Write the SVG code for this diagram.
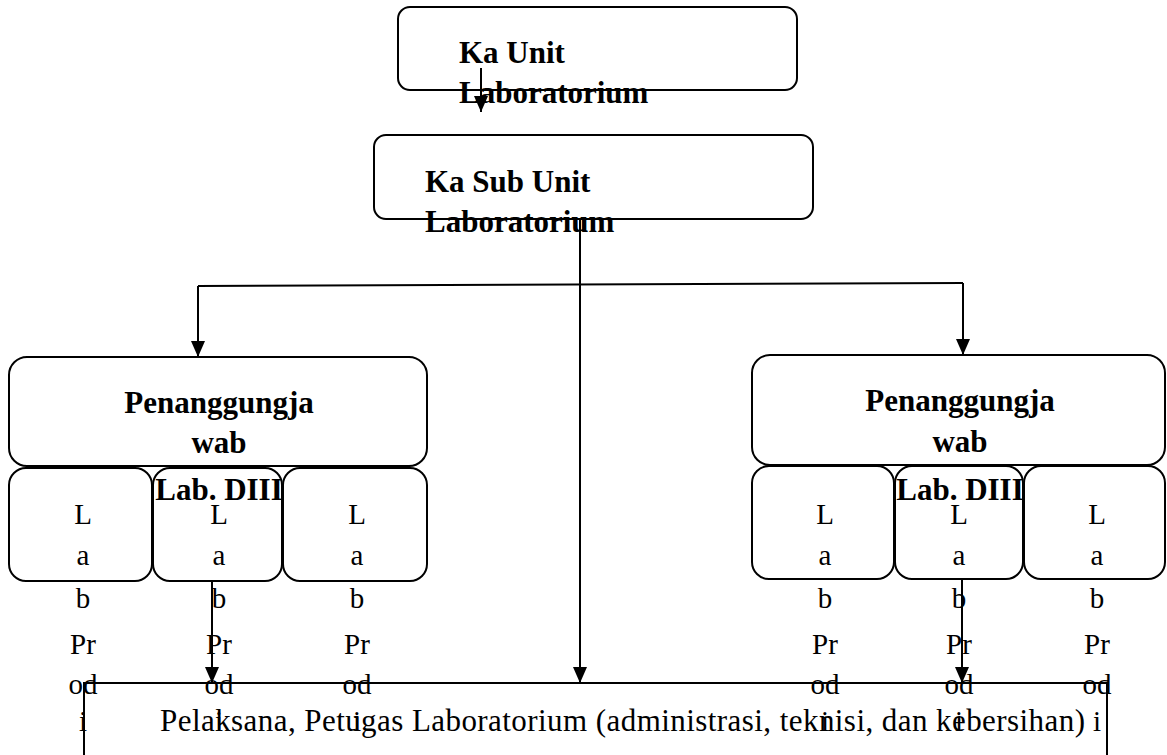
<svg xmlns="http://www.w3.org/2000/svg" width="1167" height="755" viewBox="0 0 1167 755">
<style>
.box{fill:#fff;stroke:#000;stroke-width:2}
.ln{fill:none;stroke:#000;stroke-width:2}
.b{font-family:"Liberation Serif","Times New Roman",serif;font-weight:bold;font-size:31px;fill:#000}
.r{font-family:"Liberation Serif","Times New Roman",serif;font-size:29px;fill:#000;text-anchor:middle}
.c{text-anchor:middle}
</style>
<defs>
<marker id="ah" viewBox="0 0 16 14" refX="16" refY="7" markerWidth="16" markerHeight="14" markerUnits="userSpaceOnUse" orient="auto">
<path d="M0,0 L16,7 L0,14 Z" fill="#000"/>
</marker>
</defs>
<rect x="0" y="0" width="1167" height="755" fill="#fff"/>
<g id="ka-unit">
<rect class="box" x="398" y="7" width="399" height="83" rx="12"/>
<text class="b" x="459" y="63">Ka Unit</text>
<text class="b" x="459" y="103">Laboratorium</text>
</g>
<g id="ka-sub-unit">
<rect class="box" x="374" y="135" width="439" height="84" rx="12"/>
<text class="b" x="425" y="192">Ka Sub Unit</text>
<text class="b" x="425" y="232">Laboratorium</text>
</g>
<g id="pj-kiri">
<rect class="box" x="9" y="357" width="418" height="109" rx="18"/>
<rect class="box" x="9" y="468" width="143" height="113" rx="17"/>
<rect class="box" x="153" y="468" width="129" height="113" rx="17"/>
<rect class="box" x="283" y="468" width="144" height="113" rx="17"/>
<text class="b c" x="219" y="413">Penanggungja</text>
<text class="b c" x="219" y="453">wab</text>
<text class="b c" x="219" y="500">Lab. DIII</text>
</g>
<g id="lab-kiri">
<text class="r" x="83" y="524">L</text><text class="r" x="83" y="565">a</text><text class="r" x="83" y="608">b</text><text class="r" x="83" y="654">Pr</text><text class="r" x="83" y="694">od</text><text class="r" x="83" y="731">i</text>
<text class="r" x="219" y="524">L</text><text class="r" x="219" y="565">a</text><text class="r" x="219" y="608">b</text><text class="r" x="219" y="654">Pr</text><text class="r" x="219" y="694">od</text><text class="r" x="219" y="731">i</text>
<text class="r" x="357" y="524">L</text><text class="r" x="357" y="565">a</text><text class="r" x="357" y="608">b</text><text class="r" x="357" y="654">Pr</text><text class="r" x="357" y="694">od</text><text class="r" x="357" y="731">i</text>
</g>
<g id="pj-kanan">
<rect class="box" x="752" y="355" width="413" height="110" rx="18"/>
<rect class="box" x="752" y="466" width="142" height="113" rx="17"/>
<rect class="box" x="895" y="466" width="128" height="113" rx="17"/>
<rect class="box" x="1024" y="466" width="141" height="113" rx="17"/>
<text class="b c" x="960" y="411">Penanggungja</text>
<text class="b c" x="960" y="452">wab</text>
<text class="b c" x="960" y="500">Lab. DIII</text>
</g>
<g id="lab-kanan">
<text class="r" x="825" y="524">L</text><text class="r" x="825" y="565">a</text><text class="r" x="825" y="608">b</text><text class="r" x="825" y="654">Pr</text><text class="r" x="825" y="694">od</text><text class="r" x="825" y="731">i</text>
<text class="r" x="959" y="524">L</text><text class="r" x="959" y="565">a</text><text class="r" x="959" y="608">b</text><text class="r" x="959" y="654">Pr</text><text class="r" x="959" y="694">od</text><text class="r" x="959" y="731">i</text>
<text class="r" x="1097" y="524">L</text><text class="r" x="1097" y="565">a</text><text class="r" x="1097" y="608">b</text><text class="r" x="1097" y="654">Pr</text><text class="r" x="1097" y="694">od</text><text class="r" x="1097" y="731">i</text>
</g>
<g id="pelaksana">
<rect class="ln" x="84" y="683" width="1023" height="90"/>
<text class="r" x="160" y="731" style="text-anchor:start;font-size:31px" textLength="925" lengthAdjust="spacing">Pelaksana, Petugas Laboratorium (administrasi, teknisi, dan kebersihan)</text>
</g>
<g id="connectors">
<path class="ln" d="M481,68 V112" marker-end="url(#ah)"/>
<path class="ln" d="M580,219 V683" marker-end="url(#ah)"/>
<path class="ln" d="M198,286 L963,283"/>
<path class="ln" d="M198,286 V357" marker-end="url(#ah)"/>
<path class="ln" d="M963,283 V355" marker-end="url(#ah)"/>
<path class="ln" d="M212,581 V683" marker-end="url(#ah)"/>
<path class="ln" d="M962,579 V683" marker-end="url(#ah)"/>
</g>
</svg>
